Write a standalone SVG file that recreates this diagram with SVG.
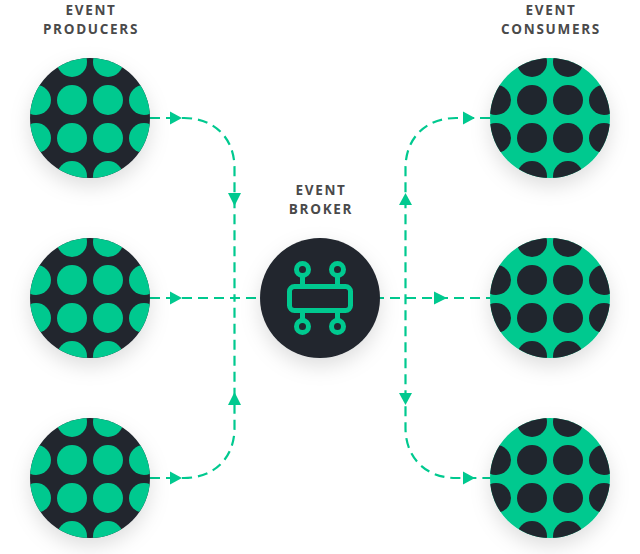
<svg xmlns="http://www.w3.org/2000/svg" xmlns:xlink="http://www.w3.org/1999/xlink" width="640" height="554" viewBox="0 0 640 554">
<style>
.lbl{font-family:"Open Sans","Liberation Sans",sans-serif;font-weight:700;font-size:13.500px;letter-spacing:1.700px;fill:#4a4a4a;text-anchor:middle}
.conn{fill:none;stroke:#00c98f;stroke-width:2.200;stroke-dasharray:10 6}
.ah{fill:#00c98f}
.dark{fill:#20262e}
.green{fill:#00c98f}
</style>
<defs>
<filter id="sh" x="-40%" y="-40%" width="180%" height="190%"><feDropShadow dx="0" dy="8" stdDeviation="10" flood-color="#000" flood-opacity="0.13"/></filter>
<clipPath id="cp"><circle cx="0" cy="0" r="60"/></clipPath>
<g id="dots">
<circle cx="-54" cy="-56" r="15"/><circle cx="-18" cy="-56" r="15"/><circle cx="18" cy="-56" r="15"/><circle cx="54" cy="-56" r="15"/>
<circle cx="-54" cy="-18" r="15"/><circle cx="-18" cy="-18" r="15"/><circle cx="18" cy="-18" r="15"/><circle cx="54" cy="-18" r="15"/>
<circle cx="-54" cy="20" r="15"/><circle cx="-18" cy="20" r="15"/><circle cx="18" cy="20" r="15"/><circle cx="54" cy="20" r="15"/>
<circle cx="-54" cy="58" r="15"/><circle cx="-18" cy="58" r="15"/><circle cx="18" cy="58" r="15"/><circle cx="54" cy="58" r="15"/>
</g>
<g id="prod"><circle r="60" class="dark" filter="url(#sh)"/><g clip-path="url(#cp)" class="green"><use xlink:href="#dots" href="#dots"/></g></g>
<g id="cons"><circle r="60" class="green" filter="url(#sh)"/><g clip-path="url(#cp)" class="dark"><use xlink:href="#dots" href="#dots"/></g></g>
</defs>
<g id="connectors">
<path class="conn" d="M150 118H184C214 118 234.500 138 234.500 168V298"/>
<path class="conn" d="M150 478H184C214 478 234.500 458 234.500 428V298"/>
<path class="conn" d="M150 298H490"/>
<path class="conn" d="M490 118H456C426 118 405.500 138 405.500 168V428C405.500 458 426 478 456 478H490"/>
<polygon class="ah" points="170,111.500 182,118 170,124.500"/>
<polygon class="ah" points="170,291.500 182,298 170,304.500"/>
<polygon class="ah" points="170,471.500 182,478 170,484.500"/>
<polygon class="ah" points="228,193 241,193 234.500,206"/>
<polygon class="ah" points="228,405 241,405 234.500,392"/>
<polygon class="ah" points="399,205 412,205 405.500,193"/>
<polygon class="ah" points="399,393 412,393 405.500,405"/>
<polygon class="ah" points="434,291.500 447,298 434,304.500"/>
<polygon class="ah" points="463,111.500 475,118 463,124.500"/>
<polygon class="ah" points="463,471.500 475,478 463,484.500"/>
</g>
<g id="producer-1"><use xlink:href="#prod" href="#prod" x="90" y="118"/></g>
<g id="producer-2"><use xlink:href="#prod" href="#prod" x="90" y="298"/></g>
<g id="producer-3"><use xlink:href="#prod" href="#prod" x="90" y="478"/></g>
<g id="consumer-1"><use xlink:href="#cons" href="#cons" x="550" y="118"/></g>
<g id="consumer-2"><use xlink:href="#cons" href="#cons" x="550" y="298"/></g>
<g id="consumer-3"><use xlink:href="#cons" href="#cons" x="550" y="478"/></g>
<g id="broker">
<circle cx="320" cy="298" r="60" class="dark" filter="url(#sh)"/>
<g fill="none" stroke="#00c98f" stroke-width="5">
<rect x="289.500" y="286.500" width="61" height="24" rx="5"/>
<circle cx="302.500" cy="269.500" r="6"/><circle cx="337.500" cy="269.500" r="6"/>
<circle cx="302.500" cy="326.500" r="6"/><circle cx="337.500" cy="326.500" r="6"/>
<path d="M302.500 276V286M337.500 276V286M302.500 311V320M337.500 311V320"/>
</g>
</g>
<g id="labels">
<text class="lbl" x="91" y="15">EVENT</text>
<text class="lbl" x="91" y="34">PRODUCERS</text>
<text class="lbl" x="321" y="195">EVENT</text>
<text class="lbl" x="321" y="214">BROKER</text>
<text class="lbl" x="551" y="15">EVENT</text>
<text class="lbl" x="551" y="34">CONSUMERS</text>
</g>
</svg>
